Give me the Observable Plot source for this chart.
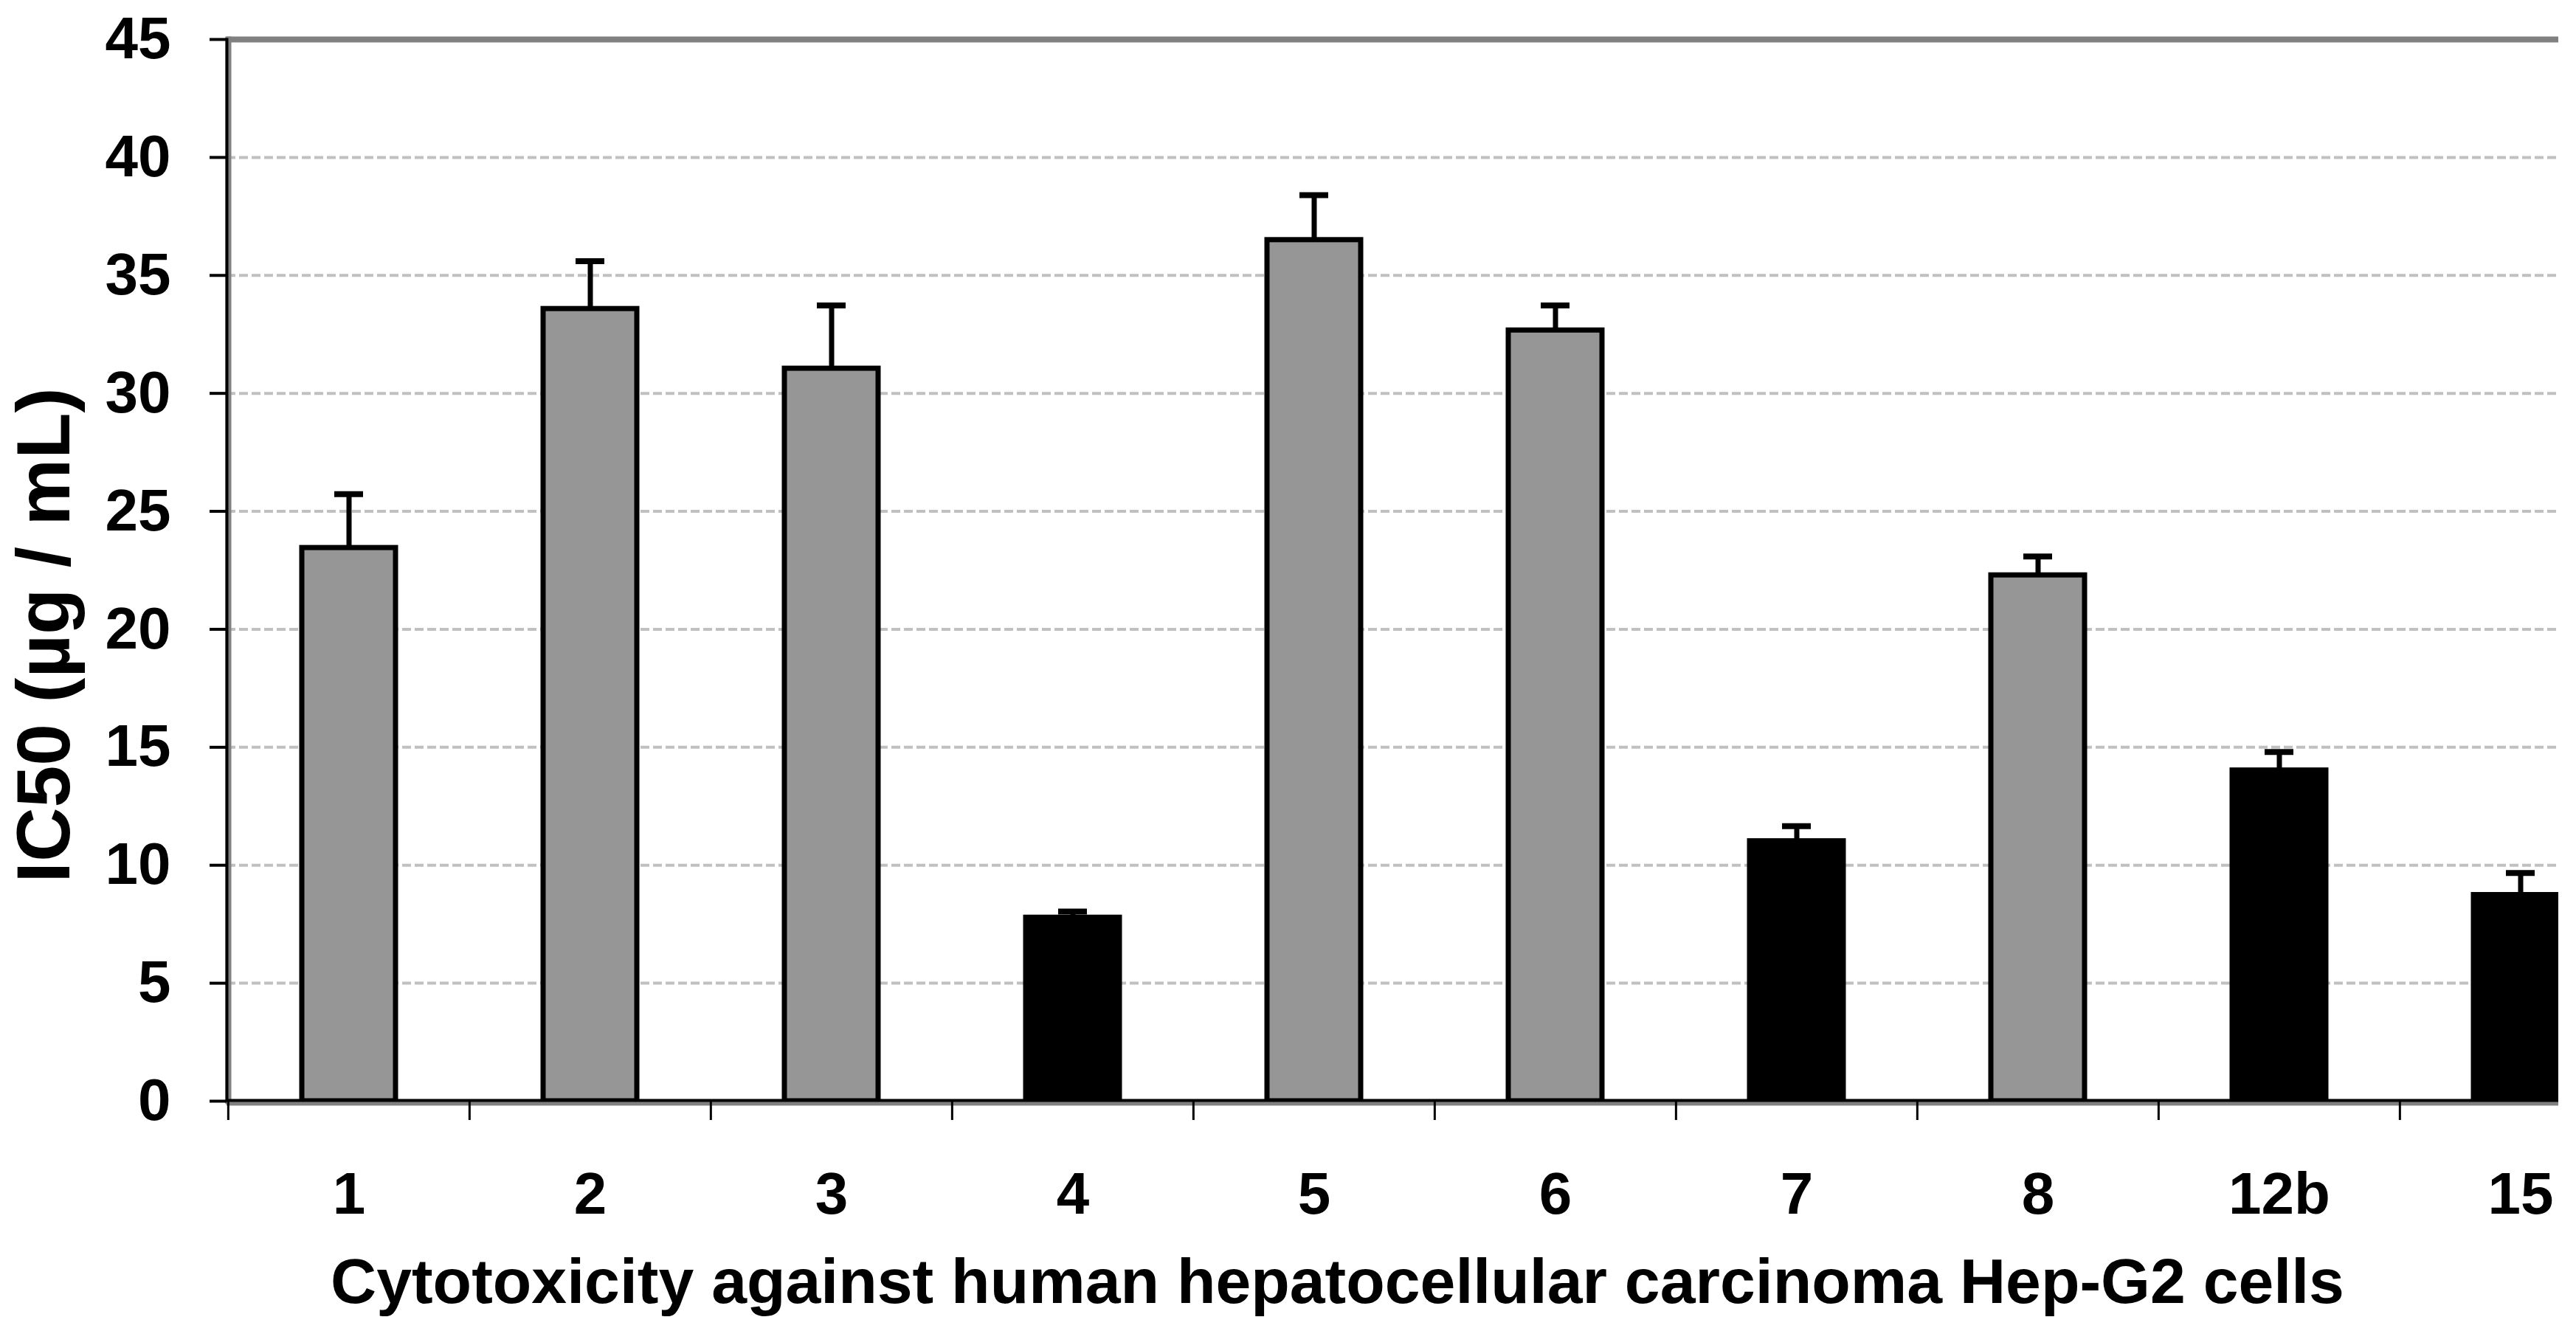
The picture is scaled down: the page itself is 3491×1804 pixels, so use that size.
<!DOCTYPE html>
<html>
<head>
<meta charset="utf-8">
<script src="https://cdn.jsdelivr.net/npm/d3@7"></script>
<script src="https://cdn.jsdelivr.net/npm/@observablehq/plot@0.6"></script>
<style>
  html, body { margin: 0; padding: 0; background: #fff; overflow: hidden; }
  #chart { width: 3491px; height: 1804px; }
</style>
</head>
<body>
<div id="chart"></div>
<script>
// ---- data ----
const categories = ["1", "2", "3", "4", "5", "6", "7", "8", "12b", "15"];
const ic50 = [23.45, 33.58, 31.05, 7.78, 36.5, 32.67, 11.02, 22.29, 14.02, 8.74];
const errors = [2.28, 2.02, 2.68, 0.26, 1.9, 1.06, 0.64, 0.80, 0.78, 0.93];
const groups = ["less", "less", "less", "more", "less", "less", "more", "less", "more", "more"];
const yTicks = [0, 5, 10, 15, 20, 25, 30, 35, 40, 45];
const gridValues = [5, 10, 15, 20, 25, 30, 35, 40];
const yTitle = "IC50 (µg / mL)";
const xTitle = "Cytotoxicity against human hepatocellular carcinoma Hep-G2 cells";

const data = categories.map((c, i) => ({cat: c, value: ic50[i], err: errors[i], group: groups[i]}));

// ---- layout ----
const W = 3491, H = 1804;
const mL = 307, mR = 24, mT = 53, mB = 312;
const step = 327.3;
const font = "'Liberation Sans', Arial, sans-serif";

const chart = Plot.plot({
  width: W,
  height: H,
  marginLeft: mL,
  marginRight: mR,
  marginTop: mT,
  marginBottom: mB,
  style: {fontFamily: font, fontWeight: "bold", fontSize: "80px", color: "black", background: "white"},
  x: {domain: categories, range: [mL, mL + categories.length * step], paddingInner: 0.612, paddingOuter: 0.306, label: null},
  y: {domain: [0, 45], label: null},
  color: {domain: ["less", "more"], range: ["#969696", "#000000"]},
  marks: [
    // gridlines
    Plot.ruleY(gridValues, {stroke: "#c0c0c0", strokeWidth: 4, strokeDasharray: "12,5"}),
    // top border
    Plot.ruleY([45], {stroke: "#808080", strokeWidth: 8}),
    // bars
    Plot.barY(data, {x: "cat", y: "value", fill: "group", stroke: "black", strokeWidth: 7, clip: true}),
    // error bars
    Plot.ruleX(data, {x: "cat", y1: "value", y2: d => d.value + d.err, stroke: "black", strokeWidth: 7}),
    Plot.tickY(data, {x: "cat", y: d => d.value + d.err, stroke: "black", strokeWidth: 8, insetLeft: 44, insetRight: 44}),
    // left border (gray) and axis line
    Plot.frame({anchor: "left", stroke: "#808080", strokeWidth: 8, dx: 2}),
    Plot.frame({anchor: "left", stroke: "black", strokeWidth: 4}),
    // bottom border and axis line
    Plot.ruleY([0], {stroke: "#808080", strokeWidth: 8, dy: 2}),
    Plot.ruleY([0], {stroke: "black", strokeWidth: 4, dy: -1}),
    // y axis
    Plot.axisY({ticks: yTicks, tickSize: 23, tickPadding: 53, strokeWidth: 4, fontSize: 80, label: null}),
    // x category boundary ticks
    Plot.axisX({tickSize: 26, tickFormat: () => "", dx: -step / 2, strokeWidth: 3, label: null}),
    // x labels
    Plot.axisX({tickSize: 0, tickPadding: 96, fontSize: 80, label: null}),
    // axis titles
    Plot.text([xTitle], {frameAnchor: "bottom", text: d => d, dx: -75, dy: 273, lineAnchor: "bottom", fontSize: 86, fontWeight: "bold"}),
    Plot.text([yTitle], {frameAnchor: "left", text: d => d, rotate: -90, dx: -214, dy: 88, lineAnchor: "bottom", textAnchor: "middle", fontSize: 102, fontWeight: "bold"})
  ]
});

document.getElementById("chart").appendChild(chart);
</script>
</body>
</html>
